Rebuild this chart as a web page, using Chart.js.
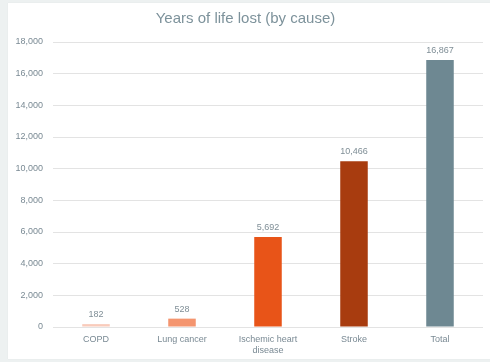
<!DOCTYPE html>
<html>
<head>
<meta charset="utf-8">
<script src="https://cdn.jsdelivr.net/npm/chart.js@4"></script>
<style>
  html, body { margin: 0; padding: 0; background: #edf1f1; width: 490px; height: 362px; overflow: hidden; }
  #card { position: absolute; left: 8px; top: 3px; width: 488px; height: 356px; background: #ffffff; box-shadow: 0 0 1px rgba(0,0,0,0.08); }
  #card canvas { display: block; }
</style>
</head>
<body>
<div id="card"><canvas id="c" width="488" height="356"></canvas></div>
<script>
// Years of life lost, grouped by cause
const causes = ['COPD', 'Lung cancer', ['Ischemic heart', 'disease'], 'Stroke', 'Total'];
const yearsLost = [182, 528, 5692, 10466, 16867];
const barColors = ['#f9cbbb', '#f4956f', '#e85418', '#a83c0f', '#6e8892'];
const yTicks = [0, 2000, 4000, 6000, 8000, 10000, 12000, 14000, 16000, 18000];

const fmt = v => v.toLocaleString('en-US');
const FONT = '"Liberation Sans", Arial, sans-serif';

// Writes each bar's value just above its top
const valueLabels = {
  id: 'valueLabels',
  afterDatasetsDraw(chart) {
    const ctx = chart.ctx;
    const meta = chart.getDatasetMeta(0);
    ctx.save();
    ctx.font = '9px ' + FONT;
    ctx.fillStyle = '#7f8e96';
    ctx.textAlign = 'center';
    ctx.textBaseline = 'bottom';
    meta.data.forEach((bar, i) => {
      ctx.fillText(fmt(yearsLost[i]), bar.x, bar.y - 5);
    });
    ctx.restore();
  }
};

new Chart(document.getElementById('c'), {
  type: 'bar',
  data: {
    labels: causes,
    datasets: [{
      data: yearsLost,
      backgroundColor: barColors,
      borderWidth: 0,
      barPercentage: 1,
      categoryPercentage: 0.32
    }]
  },
  options: {
    responsive: false,
    animation: false,
    layout: { padding: { left: 0, right: 13, top: 0, bottom: 0 } },
    plugins: {
      legend: { display: false },
      tooltip: { enabled: false },
      title: {
        display: true,
        text: 'Years of life lost (by cause)',
        color: '#7d929b',
        font: { family: FONT, size: 15, weight: 'normal' },
        padding: { top: 7, bottom: 14 }
      }
    },
    scales: {
      x: {
        grid: { display: false, drawTicks: false },
        border: { display: false },
        afterFit(scale) { scale.height = 32; },
        ticks: {
          color: '#7a8a94',
          font: { family: FONT, size: 9 },
          padding: 7,
          maxRotation: 0,
          autoSkip: false
        }
      },
      y: {
        min: 0,
        max: 18000,
        afterBuildTicks(scale) { scale.ticks = yTicks.map(v => ({ value: v })); },
        afterFit(scale) { scale.width = 45; },
        grid: { color: '#e3e3e3', lineWidth: 1, drawTicks: false },
        border: { display: false },
        ticks: {
          color: '#7a8a94',
          font: { family: FONT, size: 9 },
          padding: 10,
          callback: v => fmt(v)
        }
      }
    }
  },
  plugins: [valueLabels]
});
</script>
</body>
</html>
